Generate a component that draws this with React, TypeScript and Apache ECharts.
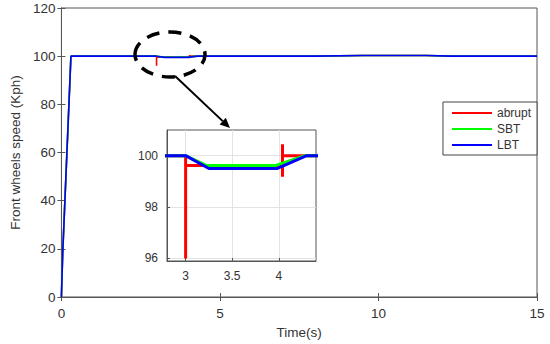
import React, { useEffect, useRef } from "react";
import * as echarts from "echarts";

// ---- data (time in s, speed in Kph) ----
const abruptT = [0, 0.04, 0.3, 3.0, 3.0, 3.0, 4.04, 4.04, 4.04, 4.04, 8, 9.5, 11.5, 12.3, 15];
const abruptV = [0, 18, 100, 100, 96, 99.62, 99.62, 100.45, 99.18, 100, 100, 100.3, 100.3, 100, 100];
const sbtT = [0, 0.04, 0.3, 3.0, 3.22, 3.97, 4.28, 8, 9.5, 11.5, 12.3, 15];
const sbtV = [0, 18, 100, 100, 99.62, 99.62, 100, 100, 100.3, 100.3, 100, 100];
const lbtT = [0, 0.04, 0.3, 3.0, 3.25, 3.98, 4.3, 8, 9.5, 11.5, 12.3, 15];
const lbtV = [0, 18, 100, 100, 99.5, 99.5, 100, 100, 100.3, 100.3, 100, 100];

const seriesNames = ["abrupt", "SBT", "LBT"];
const seriesColors = ["#ff0000", "#00ff00", "#0000ff"];
const seriesT = [abruptT, sbtT, lbtT];
const seriesV = [abruptV, sbtV, lbtV];

const mainXTicks = { min: 0, max: 15, interval: 5 };
const mainYTicks = { min: 0, max: 120, interval: 20 };
const insetXRange = [2.8, 4.4];
const insetXTicks = [3, 3.5, 4];
const insetYRange = [95.9, 101];
const insetYTicks = [96, 98, 100];

const AXIS = "#555555";
const TEXT = "#333333";
const FONT = "Arial, 'Liberation Sans', sans-serif";

export default function App() {
  const ref = useRef<HTMLDivElement>(null);
  useEffect(() => {
    document.body.style.margin = "0";
    if (!ref.current) return;
    const chart = echarts.init(ref.current, undefined, { renderer: "svg" });

    const zipped = (i: number) => seriesT[i].map((t, k) => [t, seriesV[i][k]]);

    const mainAxisCommon = {
      type: "value" as const,
      gridIndex: 0,
      axisLine: { show: true, lineStyle: { color: AXIS, width: 1 } },
      axisTick: { show: true, inside: true, length: 4, lineStyle: { color: AXIS } },
      splitLine: { show: false },
    };

    const series: any[] = [];
    for (let i = 0; i < 3; i++) {
      series.push({
        type: "line",
        name: seriesNames[i],
        xAxisIndex: 0,
        yAxisIndex: 0,
        data: zipped(i),
        symbol: "none",
        lineStyle: { color: seriesColors[i], width: 1.6 },
        itemStyle: { color: seriesColors[i] },
        z: 2 + i,
      });
    }
    for (let i = 0; i < 3; i++) {
      series.push({
        type: "line",
        name: seriesNames[i],
        xAxisIndex: 2,
        yAxisIndex: 2,
        data: zipped(i),
        symbol: "none",
        clip: true,
        lineStyle: { color: seriesColors[i], width: 3 },
        itemStyle: { color: seriesColors[i] },
        z: 10 + i,
      });
    }

    // arrow geometry (annotation)
    const a0 = [175, 76];
    const a1 = [230, 128];
    const dx = a1[0] - a0[0];
    const dy = a1[1] - a0[1];
    const len = Math.sqrt(dx * dx + dy * dy);
    const ux = dx / len;
    const uy = dy / len;
    const headL = 10;
    const headW = 4.5;
    const bx = a1[0] - ux * headL;
    const by = a1[1] - uy * headL;

    chart.setOption({
      animation: false,
      backgroundColor: "#ffffff",
      textStyle: { fontFamily: FONT },
      grid: [
        { left: 56, top: 8, width: 481, height: 289, show: true, borderColor: AXIS, borderWidth: 1, backgroundColor: "#fff" },
        { left: 167, top: 130, width: 149, height: 131, show: true, borderColor: AXIS, borderWidth: 1, backgroundColor: "#fff", z: 5 },
      ],
      xAxis: [
        {
          ...mainAxisCommon,
          ...mainXTicks,
          position: "bottom",
          axisLabel: { color: TEXT, fontSize: 13.5, margin: 9, fontFamily: FONT },
          name: "Time(s)",
          nameLocation: "middle",
          nameGap: 28,
          nameTextStyle: { color: TEXT, fontSize: 13.5, fontFamily: FONT },
        },
        {
          ...mainAxisCommon,
          ...mainXTicks,
          position: "top",
          axisLabel: { show: false },
        },
        {
          type: "value",
          gridIndex: 1,
          min: insetXRange[0],
          max: insetXRange[1],
          position: "bottom",
          axisLine: { show: true, lineStyle: { color: AXIS } },
          axisTick: { show: true, inside: true, length: 3, customValues: insetXTicks, lineStyle: { color: AXIS } },
          axisLabel: { customValues: insetXTicks, color: TEXT, fontSize: 12, margin: 9, fontFamily: FONT },
          splitLine: { show: true, lineStyle: { color: "#e3e3e3", width: 1 } },
          z: 6,
        },
      ],
      yAxis: [
        {
          ...mainAxisCommon,
          ...mainYTicks,
          position: "left",
          axisLabel: { color: TEXT, fontSize: 13.5, margin: 6, fontFamily: FONT },
          name: "Front wheels speed (Kph)",
          nameLocation: "middle",
          nameGap: 36,
          nameRotate: 90,
          nameTextStyle: { color: TEXT, fontSize: 13.5, fontFamily: FONT },
        },
        {
          ...mainAxisCommon,
          ...mainYTicks,
          position: "right",
          axisLabel: { show: false },
        },
        {
          type: "value",
          gridIndex: 1,
          min: insetYRange[0],
          max: insetYRange[1],
          position: "left",
          axisLine: { show: true, lineStyle: { color: AXIS } },
          axisTick: { show: true, inside: true, length: 3, customValues: insetYTicks, lineStyle: { color: AXIS } },
          axisLabel: { customValues: insetYTicks, color: TEXT, fontSize: 12, margin: 9, fontFamily: FONT },
          splitLine: { show: true, lineStyle: { color: "#e3e3e3", width: 1 } },
          z: 6,
        },
      ],
      legend: {
        data: seriesNames,
        orient: "vertical",
        right: 13,
        top: 102,
        backgroundColor: "#ffffff",
        borderColor: "#444",
        borderWidth: 1,
        borderRadius: 0,
        padding: [5, 6, 4, 9],
        icon: "rect",
        itemWidth: 40,
        itemHeight: 2,
        itemGap: 4,
        textStyle: { color: TEXT, fontSize: 12, fontFamily: FONT, padding: [0, 0, 0, 0] },
        selectedMode: false,
      },
      graphic: [
        {
          type: "ellipse",
          shape: { cx: 170, cy: 54.5, rx: 35, ry: 22.5 },
          style: { fill: "none", stroke: "#000", lineWidth: 3.5, lineDash: [13, 9] },
          z: 100,
        },
        {
          type: "line",
          shape: { x1: a0[0], y1: a0[1], x2: bx, y2: by },
          style: { stroke: "#000", lineWidth: 2 },
          z: 100,
        },
        {
          type: "polygon",
          shape: {
            points: [
              [a1[0], a1[1]],
              [bx - uy * headW, by + ux * headW],
              [bx + uy * headW, by - ux * headW],
            ],
          },
          style: { fill: "#000" },
          z: 100,
        },
      ],
      series,
    });
    return () => chart.dispose();
  }, []);
  return <div ref={ref} style={{ width: 550, height: 344 }} />;
}
